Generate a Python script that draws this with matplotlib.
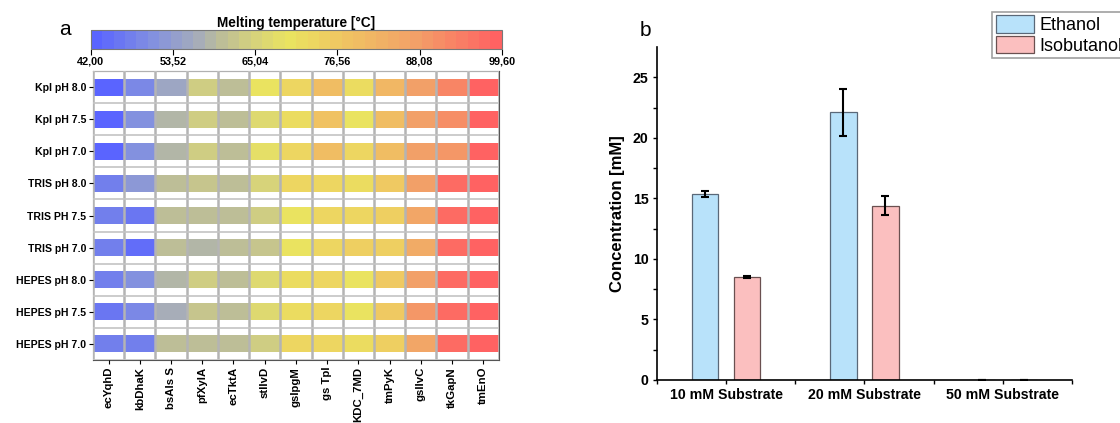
import matplotlib
matplotlib.use('Agg')
import matplotlib.pyplot as plt
import numpy as np
from matplotlib.colors import LinearSegmentedColormap, Normalize

plt.rcParams['font.family'] = ['Liberation Sans', 'DejaVu Sans']

# panel a: melting temperatures (deg C)
buffers = ["Kpl pH 8.0", "Kpl pH 7.5", "Kpl pH 7.0",
           "TRIS pH 8.0", "TRIS PH 7.5", "TRIS pH 7.0",
           "HEPES pH 8.0", "HEPES pH 7.5", "HEPES pH 7.0"]
enzymes = ["ecYqhD", "kbDhaK", "bsAls S", "pfXylA", "ecTktA", "stIlvD", "gsIpgM",
           "gs TpI", "KDC_7MD", "tmPyK", "gsIlvC", "tkGapN", "tmEnO"]
tm = np.array([
    [42.5, 49, 56, 64, 60, 70, 73, 79, 71, 81, 88, 92, 99],
    [43, 50, 59, 64, 60, 66, 72, 78, 70, 80, 87, 91, 99],
    [43, 50, 58, 64, 61, 69, 73, 79, 73, 80, 87, 89, 98],
    [47, 53, 60, 62, 60, 65, 73, 73, 72, 76, 87, 97, 98],
    [47, 46, 60, 61, 60, 64, 70, 73, 73, 75, 86, 97, 98],
    [47, 45, 60, 58, 60, 62, 70, 73, 75, 74, 84, 97, 98],
    [47, 50, 58, 64, 60, 66, 72, 73, 70, 76, 88, 97, 98],
    [46, 49, 57, 62, 60, 66, 72, 73, 70, 76, 89, 97, 98],
    [48, 48, 60, 60, 60, 64, 73, 73, 72, 74, 86, 97, 98],
])
tm_min, tm_max = 42.0, 99.6

# panel b: product concentrations
groups = ["10 mM Substrate", "20 mM Substrate", "50 mM Substrate"]
ethanol = [15.4, 22.1, 0]
ethanol_err = [0.25, 1.95, 0]
isobutanol = [8.5, 14.4, 0]
isobutanol_err = [0.1, 0.8, 0]

cmap = LinearSegmentedColormap.from_list("tm", [
    (0.0, "#5a64ff"), (0.14, "#8290e0"), (0.25, "#a4abbc"), (0.31, "#bcbd98"),
    (0.38, "#d2cf80"), (0.48, "#eae460"), (0.62, "#f0c462"), (0.8, "#f2a068"),
    (1.0, "#ff6262")], N=36)
norm = Normalize(tm_min, tm_max)

fig = plt.figure(figsize=(11.2, 4.23), dpi=100)

# ---- heatmap ----
ax = fig.add_axes([0.083, 0.149, 0.3625, 0.683])
x_edges = np.arange(len(enzymes) + 1) - 0.5
for r in range(len(buffers)):
    mesh = ax.pcolormesh(x_edges, [r - 0.265, r + 0.265], tm[r:r + 1], cmap=cmap, norm=norm)
ax.set_xlim(-0.5, len(enzymes) - 0.5)
ax.set_ylim(len(buffers) - 0.5, -0.5)
ax.set_xticks(range(len(enzymes)))
ax.set_xticklabels(enzymes, rotation=90, fontsize=8.2, fontweight='bold')
ax.set_yticks(range(len(buffers)))
ax.set_yticklabels(buffers, fontsize=7.6, fontweight='bold')
ax.set_xticks(x_edges, minor=True)
ax.set_yticks(np.arange(len(buffers) + 1) - 0.5, minor=True)
ax.grid(which='minor', axis='x', color='#b4b4b4', lw=1.8)
ax.grid(which='minor', axis='y', color='#c4c4c4', lw=1.2)
ax.set_axisbelow(False)
ax.tick_params(which='minor', length=0)
ax.tick_params(which='major', length=3, width=0.8, pad=2)
for s in ax.spines.values():
    s.set_color('#555555')
    s.set_linewidth(0.8)

cax = fig.add_axes([0.081, 0.884, 0.367, 0.045])
cb = fig.colorbar(mesh, cax=cax, orientation='horizontal',
                  ticks=np.linspace(tm_min, tm_max, 6))
cb.ax.set_xticklabels([("%.2f" % t).replace('.', ',') for t in np.linspace(tm_min, tm_max, 6)],
                      fontsize=7.8, fontweight='bold')
cb.ax.tick_params(length=4, width=0.8, pad=1)
cb.outline.set_edgecolor('#777777')
cb.outline.set_linewidth(0.8)
cax.set_title("Melting temperature [°C]", fontsize=9.8, fontweight='bold', pad=1)
fig.text(0.058, 0.93, "a", fontsize=15, ha='center', va='center')

# ---- bar chart ----
bx = fig.add_axes([0.5866, 0.1017, 0.3705, 0.787])
x = np.arange(len(groups))
w = 0.19
bx.bar(x - 0.152, ethanol, w, color='#b8e2fa', edgecolor='#5a6878', lw=0.9,
       yerr=ethanol_err, capsize=3, error_kw=dict(lw=1.5, capthick=1.5), label="Ethanol")
bx.bar(x + 0.152, isobutanol, w, color='#fbbfbf', edgecolor='#6a5050', lw=0.9,
       yerr=isobutanol_err, capsize=3, error_kw=dict(lw=1.5, capthick=1.5), label="Isobutanol")
bx.set_xlim(-0.5, 2.5)
bx.set_ylim(0, 27.5)
bx.set_xticks(x)
bx.set_xticklabels(groups, fontsize=10.2, fontweight='bold')
bx.set_xticks([-0.5, 0.5, 1.5, 2.5], minor=True)
bx.set_yticks(range(0, 26, 5))
bx.set_yticklabels([str(v) for v in range(0, 26, 5)], fontsize=10.2, fontweight='bold')
bx.set_yticks(np.arange(2.5, 27.5, 5), minor=True)
bx.tick_params(which='both', length=3, width=1, pad=3)
bx.spines['top'].set_visible(False)
bx.spines['right'].set_visible(False)
bx.spines['left'].set_linewidth(1.2)
bx.spines['bottom'].set_linewidth(1.2)
bx.set_ylabel("Concentration [mM]", fontsize=12, fontweight='bold', labelpad=6)
fig.text(0.576, 0.928, "b", fontsize=15, ha='center', va='center')

leg = fig.legend(loc='upper left', bbox_to_anchor=(0.886, 0.972), fontsize=13,
                 frameon=True, fancybox=False, edgecolor='#888888', handlelength=2.1,
                 handleheight=1.1, labelspacing=0.1, borderpad=0.2, handletextpad=0.3,
                 borderaxespad=0)
leg.get_frame().set_linewidth(1.2)

plt.savefig("out.png", dpi=100)
